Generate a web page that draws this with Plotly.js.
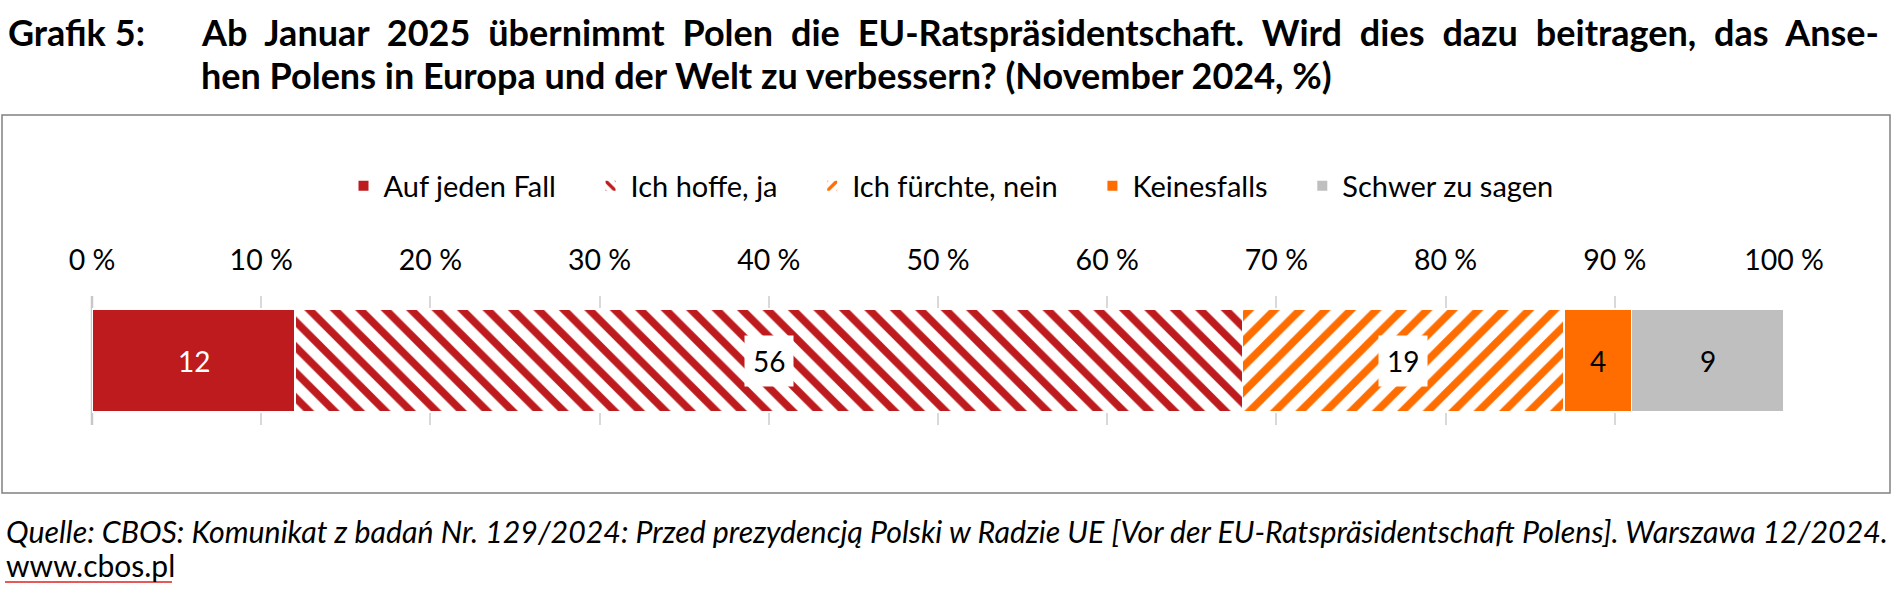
<!DOCTYPE html>
<html>
<head>
<meta charset="utf-8">
<script src="https://cdn.plot.ly/plotly-3.0.1.min.js"></script>
<style>
html,body{margin:0;padding:0;background:#fff;}
#chart{width:1893px;height:594px;}
</style>
</head>
<body>
<div id="chart"></div>
<script>
// ---- data ----
const categories = ["Auf jeden Fall", "Ich hoffe, ja", "Ich fürchte, nein", "Keinesfalls", "Schwer zu sagen"];
const values = [12, 56, 19, 4, 9];
const tickValues = [0, 10, 20, 30, 40, 50, 60, 70, 80, 90, 100];
const tickLabels = ["0 %", "10 %", "20 %", "30 %", "40 %", "50 %", "60 %", "70 %", "80 %", "90 %", "100 %"];
const titleLabel = "Grafik 5:";
const titleLine1 = "Ab Januar 2025 übernimmt Polen die EU-Ratspräsidentschaft. Wird dies dazu beitragen, das Anse-";
const titleLine2 = "hen Polens in Europa und der Welt zu verbessern? (November 2024, %)";
const sourceLine = "Quelle: CBOS: Komunikat z badań Nr. 129/2024: Przed prezydencją Polski w Radzie UE [Vor der EU-Ratspräsidentschaft Polens]. Warszawa 12/2024.";
const sourceLink = "www.cbos.pl";

// ---- styles ----
const RED = "#BD1B1E", ORANGE = "#FF6D00", GRAY = "#BFBFBF";
const colors = [RED, RED, ORANGE, ORANGE, GRAY];
const patterns = ["", "\\", "/", "", ""];
const labelColors = ["#ffffff", "#000000", "#000000", "#000000", "#000000"];
const labelBg = [null, "#ffffff", "#ffffff", null, null];
const LEGEND_PAD = "\u00A0\u00A0\u00A0\u00A0";

// ---- geometry (pixels) ----
const W = 1893, H = 594;
const L = 92, R = 1784, T = 296, B = 425;
const xp = px => (px - L) / (R - L);
const yp = py => (B - py) / (B - T);

const FONT = "Lato, 'Open Sans', sans-serif";
const TITLE_SIZE = 36;

const traces = categories.map((c, i) => ({
  type: "bar",
  orientation: "h",
  name: c + (i < categories.length - 1 ? LEGEND_PAD : ""),
  y: ["q"],
  x: [values[i]],
  marker: {
    color: patterns[i] ? "#ffffff" : colors[i],
    line: {color: "#ffffff", width: 1.5},
    pattern: patterns[i] ? {shape: patterns[i], fgcolor: colors[i], bgcolor: "#ffffff", size: 18, solidity: 0.42, fillmode: "replace"} : {shape: ""}
  },
  hoverinfo: "skip"
}));

// value labels through data coordinates
let cum = 0;
const labelAnns = values.map((v, i) => {
  const mid = cum + v / 2;
  cum += v;
  const a = {
    xref: "x", yref: "y", x: mid, y: "q",
    text: String(v), showarrow: false,
    font: {family: FONT, size: 28, color: labelColors[i]},
    xanchor: "center", yanchor: "middle"
  };
  if (labelBg[i]) { a.bgcolor = labelBg[i]; a.borderpad = 8; }
  return a;
});

const textAnns = [
  {xref: "paper", yref: "paper", x: xp(6), y: yp(32), xanchor: "left", yanchor: "middle", showarrow: false,
   text: "<b>" + titleLabel + "</b>", font: {family: FONT, size: TITLE_SIZE, color: "#000"}},
  {xref: "paper", yref: "paper", x: xp(199), y: yp(32), xanchor: "left", yanchor: "middle", showarrow: false,
   text: "<b>" + titleLine1 + "</b>", font: {family: FONT, size: TITLE_SIZE, color: "#000"}},
  {xref: "paper", yref: "paper", x: xp(199), y: yp(75), xanchor: "left", yanchor: "middle", showarrow: false,
   text: "<b>" + titleLine2 + "</b>", font: {family: FONT, size: TITLE_SIZE, color: "#000"}},
  {xref: "paper", yref: "paper", x: xp(4), y: yp(531), xanchor: "left", yanchor: "middle", showarrow: false,
   text: "<i>" + sourceLine + "</i>", font: {family: FONT, size: 30.3, color: "#000"}},
  {xref: "paper", yref: "paper", x: xp(4), y: yp(565), xanchor: "left", yanchor: "middle", showarrow: false,
   text: sourceLink, font: {family: FONT, size: 30, color: "#000"}}
];
// [annotation index, left px, target right px]
const justify = [
  [labelAnns.length + 0, 6, 143],
  [labelAnns.length + 1, 199, 1877]
];

const layout = {
  width: W, height: H,
  paper_bgcolor: "#ffffff", plot_bgcolor: "#ffffff",
  margin: {l: L, r: W - R, t: T, b: H - B, pad: 0},
  barmode: "stack",
  bargap: 0.2,
  showlegend: true,
  legend: {
    orientation: "h", x: xp(951), y: yp(186), xanchor: "center", yanchor: "middle",
    traceorder: "normal",
    font: {family: FONT, size: 29, color: "#000"},
    itemwidth: 30, itemsizing: "constant",
    bgcolor: "rgba(0,0,0,0)"
  },
  xaxis: {
    side: "top", range: [0, 100], tickmode: "array", tickvals: tickValues, ticktext: tickLabels,
    showgrid: true, gridcolor: "#D9D9D9", gridwidth: 2,
    zeroline: false, showline: false, ticks: "",
    tickfont: {family: FONT, size: 28.5, color: "#000"},
    ticklabelstandoff: 19, fixedrange: true
  },
  yaxis: {showticklabels: false, showgrid: false, zeroline: false, showline: false, ticks: "", fixedrange: true},
  annotations: labelAnns.concat(textAnns),
  shapes: [
    {type: "rect", xref: "paper", yref: "paper", x0: xp(2), x1: xp(1890), y0: yp(115), y1: yp(493),
     line: {color: "#808080", width: 1.5}, fillcolor: "rgba(0,0,0,0)", layer: "below"},
    {type: "line", xref: "paper", yref: "paper", x0: 0, x1: 0, y0: 0, y1: 1,
     line: {color: "#C8C8C8", width: 2.5}, layer: "below"},
    {type: "line", xref: "paper", yref: "paper", x0: xp(5), x1: xp(172), y0: yp(582), y1: yp(582),
     line: {color: "#E02020", width: 1.5}}
  ]
};

Plotly.newPlot("chart", traces, layout, {staticPlot: true, displayModeBar: false}).then(gd => {
  // justify title text like the original (word spacing), keeping the left edge fixed
  justify.forEach(([idx, left, right]) => {
    const t = gd.querySelector('g.annotation[data-index="' + idx + '"] text.annotation-text');
    if (!t) return;
    const b0 = t.getBBox();
    const txt = t.textContent;
    const spaces = (txt.match(/ /g) || []).length;
    const extra = ((right - left) - b0.width) / spaces;
    if (extra > 0 && spaces > 0) {
      t.style.wordSpacing = extra.toFixed(2) + "px";
      const b1 = t.getBBox();
      const dx = b0.x - b1.x;
      t.setAttribute("transform", "translate(" + dx.toFixed(2) + ",0)");
    }
  });
});
</script>
</body>
</html>
